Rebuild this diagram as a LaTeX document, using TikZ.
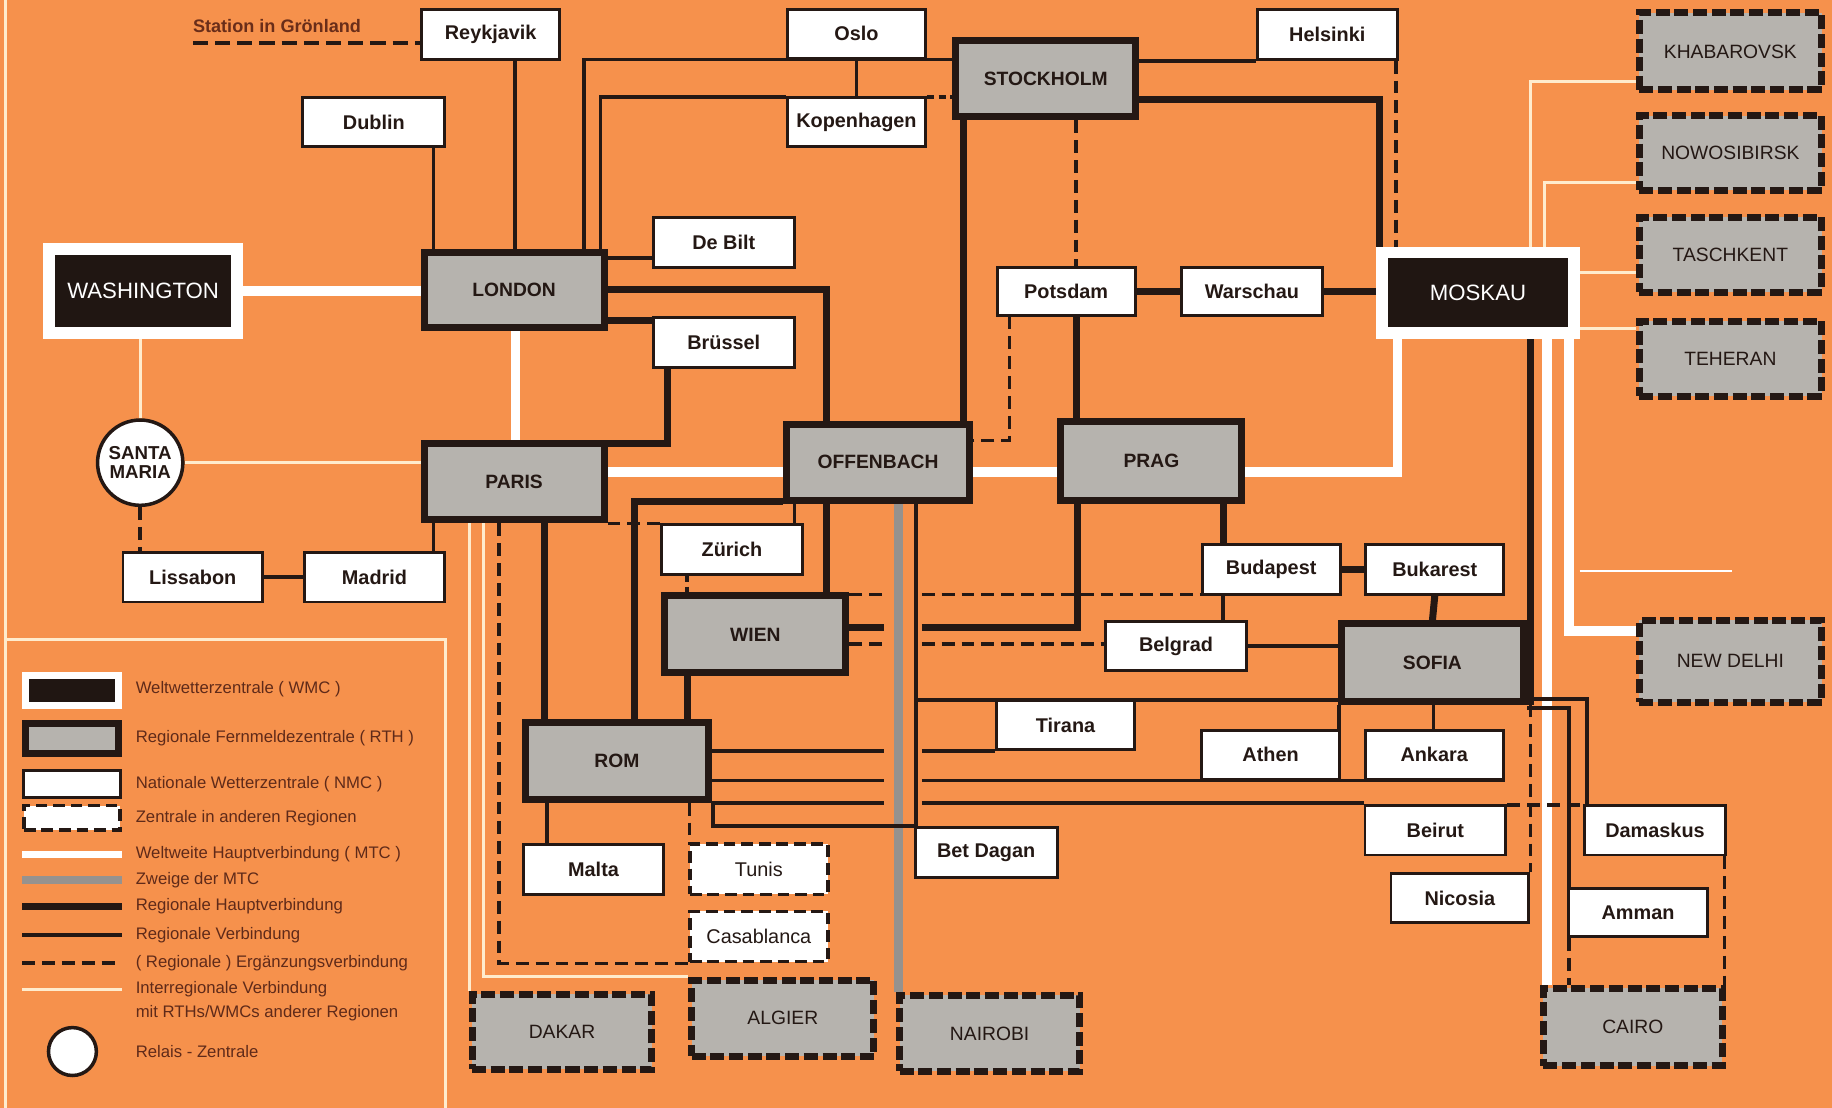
\documentclass[tikz,border=0pt]{standalone}
\usepackage{fontspec}
\setmainfont{Liberation Sans}
\definecolor{bgor}{RGB}{246,145,76}
\definecolor{ink}{RGB}{36,24,20}
\definecolor{cream}{RGB}{255,236,205}
\definecolor{stip}{RGB}{182,179,174}
\definecolor{stipd}{RGB}{150,146,142}
\definecolor{legtxt}{RGB}{95,42,25}
\definecolor{grn}{RGB}{105,45,25}
\pgfdeclarelayer{back}
\pgfdeclarelayer{lines}
\pgfsetlayers{back,lines,main}
\tikzset{
  nmc/.style={draw=ink, line width=2.5pt, fill=white, minimum width=118pt, minimum height=42.5pt, inner sep=0pt, font=\bfseries\fontsize{17}{18}\selectfont, text=ink},
  rth/.style={draw=ink, line width=6pt, fill=stip, minimum width=154pt, minimum height=65pt, inner sep=0pt, font=\bfseries\fontsize{16.5}{18}\selectfont, text=ink},
  ext/.style={draw=ink, line width=6pt, dash pattern=on 12pt off 4pt, fill=stip, minimum width=156pt, minimum height=65pt, inner sep=0pt, font=\fontsize{16.5}{18}\selectfont, text=ink},
  extw/.style={draw=ink, line width=3pt, dash pattern=on 10pt off 5pt, fill=white, minimum width=118pt, minimum height=43pt, inner sep=0pt, font=\fontsize{17}{18}\selectfont, text=ink},
  wmc/.style={draw=white, line width=10pt, fill=ink!90!black, inner sep=0pt, font=\fontsize{19}{20}\selectfont, text=white},
  relais/.style={circle, draw=ink, line width=3pt, fill=white, minimum size=73pt, inner sep=0pt, align=center, font=\bfseries\fontsize{16}{16}\selectfont, text=ink},
  mainln/.style={draw=ink, line width=6pt},
  regln/.style={draw=ink, line width=3.2pt},
  dashln/.style={draw=ink, line width=3pt, dash pattern=on 11pt off 6pt},
  mtc/.style={draw=white, line width=8pt},
  interln/.style={draw=cream, line width=2.5pt},
  branch/.style={draw=stipd, line width=8pt},
  legtext/.style={anchor=west, inner sep=0pt, text=legtxt, font=\fontsize{14.3}{16}\selectfont},
}
\begin{document}
\begin{tikzpicture}[x=1pt,y=-1pt]
\useasboundingbox (0,0) rectangle (1568,948);
\begin{pgfonlayer}{back}
\fill[bgor] (0,0) rectangle (1568,948);
\draw[interln] (5,0) -- (5,948);
\draw[interln] (5,547) -- (381,547) -- (381,948);
\end{pgfonlayer}

% ---------- NMC nodes
\node[nmc] (rey) at (420,29.5) {Reykjavik};
\node[nmc] (oslo) at (733,29) {Oslo};
\node[nmc, minimum width=119.5pt] (hel) at (1136,29.5) {Helsinki};
\node[nmc] (kop) at (733,104.5) {Kopenhagen};
\node[nmc, minimum width=121.5pt] (dub) at (320,104.5) {Dublin};
\node[nmc, minimum width=120.5pt] (dbi) at (619.5,207.5) {De Bilt};
\node[nmc, minimum width=120.5pt] (bru) at (619.5,293) {Brüssel};
\node[nmc, minimum height=40.5pt] (pot) at (912.5,249.5) {Potsdam};
\node[nmc, minimum width=120.5pt, minimum height=40.5pt] (war) at (1071.5,249.5) {Warschau};
\node[nmc, minimum width=119.5pt] (lis) at (165,494) {Lissabon};
\node[nmc, minimum width=120.5pt] (mad) at (320.5,494) {Madrid};
\node[nmc, minimum width=120.5pt] (zur) at (626.5,470.5) {Zürich};
\node[nmc] (bud) at (1088,487.5) {Budapest};
\node[nmc] (buk) at (1228,487.5) {Bukarest};
\node[nmc, minimum width=120.5pt] (bel) at (1006.5,553) {Belgrad};
\node[nmc] (tir) at (912,620.5) {Tirana};
\node[nmc, minimum height=41.5pt] (ath) at (1087.5,646) {Athen};
\node[nmc, minimum height=41.5pt] (ank) at (1227.5,646) {Ankara};
\node[nmc, minimum width=119.5pt] (mal) at (508,744) {Malta};
\node[nmc, minimum width=121.5pt] (bet) at (844,729.5) {Bet Dagan};
\node[nmc, minimum width=120.5pt] (bei) at (1228.5,710.5) {Beirut};
\node[nmc, minimum width=120.5pt] (dam) at (1416.5,710.5) {Damaskus};
\node[nmc] (nic) at (1249.5,768.5) {Nicosia};
\node[nmc, minimum width=119.5pt, minimum height=41.5pt] (amm) at (1402,781) {Amman};
\node[extw] (tun) at (649.5,744) {Tunis};
\node[extw] (cas) at (649.5,801.5) {Casablanca};

% ---------- RTH nodes
\node[rth] (sto) at (895,67.5) {STOCKHOLM};
\node[rth, minimum height=64pt] (lon) at (440,248) {LONDON};
\node[rth] (par) at (440,412.5) {PARIS};
\node[rth, minimum width=157pt] (off) at (751.5,395.5) {OFFENBACH};
\node[rth, minimum width=155pt, minimum height=67pt] (pra) at (985.5,394.5) {PRAG};
\node[rth, minimum width=155pt, minimum height=66pt] (wie) at (646.5,543) {WIEN};
\node[rth, minimum width=156pt, minimum height=66pt] (sof) at (1226,567) {SOFIA};
\node[rth, minimum width=156pt, minimum height=66pt] (rom) at (528,651) {ROM};

% ---------- other regions
\node[ext, minimum height=66pt] (kha) at (1481,44) {KHABAROVSK};
\node[ext, minimum height=64pt] (now) at (1481,131) {NOWOSIBIRSK};
\node[ext, minimum height=64pt] (tas) at (1481,218) {TASCHKENT};
\node[ext, minimum height=64pt] (teh) at (1481,307) {TEHERAN};
\node[ext, minimum height=70pt] (ndl) at (1481,566) {NEW DELHI};
\node[ext, minimum width=154pt, minimum height=64pt] (dak) at (481,883) {DAKAR};
\node[ext, minimum height=65pt] (alg) at (670,871.5) {ALGIER};
\node[ext, minimum width=154pt, minimum height=65pt] (nai) at (847,884.5) {NAIROBI};
\node[ext, minimum width=153pt, minimum height=66pt] (cai) at (1397.5,879) {CAIRO};

% ---------- WMC and relay
\node[wmc, minimum width=161pt, minimum height=72pt] (was) at (122.5,249) {WASHINGTON};
\node[wmc, minimum width=164pt, minimum height=69pt] (mos) at (1265,250.5) {MOSKAU};
\node[relais] (sm) at (120,396) {SANTA\\MARIA};

\node[font=\bfseries\fontsize{15.5}{16}\selectfont, text=grn, anchor=west, inner sep=0pt] (grtxt) at (165,22) {Station in Grönland};
\coordinate (grend) at (165,37);

% ---------- legend
\node[wmc, line width=6pt, minimum width=79pt, minimum height=26pt] (lg1) at (61.5,591) {};
\node[rth, minimum width=79pt, minimum height=26pt] (lg2) at (61.5,632) {};
\node[nmc, minimum width=82.5pt, minimum height=23.5pt] (lg3) at (61.5,671) {};
\node[extw, minimum width=82pt, minimum height=21pt] (lg4) at (61.5,700) {};
\coordinate (la5) at (19,731); \coordinate (lb5) at (104,731);
\coordinate (la6) at (19,753); \coordinate (lb6) at (104,753);
\coordinate (la7) at (19,776); \coordinate (lb7) at (104,776);
\coordinate (la8) at (19,800); \coordinate (lb8) at (104,800);
\coordinate (la9) at (19,824); \coordinate (lb9) at (104,824);
\coordinate (la10) at (19,847); \coordinate (lb10) at (104,847);
\draw[mtc, line width=6pt] (la5) -- (lb5);
\draw[branch, line width=7pt] (la6) -- (lb6);
\draw[mainln] (la7) -- (lb7);
\draw[regln] (la8) -- (lb8);
\draw[dashln] (la9) -- (lb9);
\draw[interln] (la10) -- (lb10);
\node[circle, draw=ink, line width=3pt, fill=white, minimum size=41pt] (lg12) at (62,900) {};
\node[legtext] (t1) at (116,590) {Weltwetterzentrale ( WMC )};
\node[legtext] (t2) at (116,632) {Regionale Fernmeldezentrale ( RTH )};
\node[legtext] (t3) at (116,671) {Nationale Wetterzentrale ( NMC )};
\node[legtext] (t4) at (116,700) {Zentrale in anderen Regionen};
\node[legtext] (t5) at (116,731) {Weltweite Hauptverbindung ( MTC )};
\node[legtext] (t6) at (116,753) {Zweige der MTC};
\node[legtext] (t7) at (116,776) {Regionale Hauptverbindung};
\node[legtext] (t8) at (116,800) {Regionale Verbindung};
\node[legtext] (t9) at (116,824) {( Regionale ) Ergänzungsverbindung};
\node[legtext] (t10) at (116,847) {Interregionale Verbindung};
\node[legtext] (t11) at (116,867) {mit RTHs/WMCs anderer Regionen};
\node[legtext] (t12) at (116,900) {Relais - Zentrale};

% ---------- connectors
\begin{pgfonlayer}{lines}
% interregional
\draw[interln] (was.south -| 120,0) -- (sm.north);
\draw[interln] (sm.east) -- (par.west |- sm.east);
\draw[interln] (mos.north -| 1310,0) |- (kha.west |- 0,70);
\draw[interln] (mos.north -| 1322,0) |- (now.west |- 0,156);
\draw[interln] (mos.east |- 0,233) -- (tas.west |- 0,233);
\draw[interln] (mos.east |- 0,281) -- (teh.west |- 0,281);
\draw[interln] (par.south -| 402,0) -- (dak.north -| 402,0);
\draw[interln] (par.south -| 414,0) |- (alg.north west);
\draw[white, line width=1.5pt] (1352,489) -- (1482,489);
% MTC
\draw[mtc] (was.east) -- (lon.west |- was.east);
\draw[mtc] (lon.south -| 441,0) -- (par.north -| 441,0);
\draw[mtc] (par.east |- 0,404) -- (off.west |- 0,404);
\draw[mtc] (off.east |- 0,404) -- (pra.west |- 0,404);
\draw[mtc] (pra.east |- 0,404) -| (mos.south -| 1196,0);
\draw[mtc] (mos.south -| 1343,0) |- (ndl.west |- 0,540);
\draw[mtc] (mos.south -| 1324,0) -- (cai.north -| 1324,0);
% branch of MTC
\draw[branch] (off.south -| 769,0) -- (nai.north -| 769,0);
% north
\draw[dashln, dash pattern=on 13pt off 6pt] (grend) -- (rey.west |- grend);
\draw[regln] (rey.south -| 441,0) -- (lon.north -| 441,0);
\draw[regln] (dub.south -| 371,0) -- (lon.north -| 371,0);
\draw[regln] (lon.north -| 500,0) |- (sto.west |- 0,51);
\draw[regln] (lon.north -| 514,0) |- (kop.west |- 0,83);
\draw[dashln, dash pattern=on 6pt off 4pt] (kop.east |- 0,83) -- (sto.west |- 0,83);
\draw[regln] (oslo.south) -- (kop.north);
\draw[regln] (sto.east |- 0,52) -- (hel.west |- 0,52);
\draw[mainln] (sto.east |- 0,85) -| (mos.north -| 1181,0);
\draw[dashln] (hel.south -| 1195,0) -- (mos.north -| 1195,0);
\draw[regln] (lon.east |- 0,221) -- (dbi.west |- 0,221);
\draw[mainln] (lon.east |- 0,248) -| (off.north -| 707,0);
\draw[mainln] (lon.east |- 0,274) -- (bru.west |- 0,274);
\draw[mainln] (bru.south -| 571,0) |- (par.east |- 0,380);
\draw[mainln] (sto.south -| 825,0) -- (off.north -| 825,0);
\draw[dashln] (sto.south -| 921,0) -- (pot.north -| 921,0);
\draw[mainln] (pot.east) -- (war.west);
\draw[mainln] (war.east) -- (mos.west |- war.east);
\draw[mainln] (pot.south -| 921,0) -- (pra.north -| 921,0);
\draw[dashln] (pot.south -| 864,0) |- (off.east |- 0,377);
% west
\draw[regln] (par.south -| 371,0) -- (mad.north -| 371,0);
\draw[regln] (lis.east) -- (mad.west);
\draw[dashln] (sm.south) -- (lis.north -| sm.south);
\draw[mainln] (par.south -| 466,0) -- (rom.north -| 466,0);
\draw[dashln] (par.south -| 427,0) |- (cas.south west);
\draw[dashln] (par.east |- 0,448) -- (zur.west |- 0,448);
% centre
\draw[mainln] (off.west |- 0,429) -| (rom.north -| 543,0);
\draw[regln] (off.south -| 680,0) -- (zur.north -| 680,0);
\draw[mainln] (off.south -| 707,0) -- (wie.north -| 707,0);
\draw[dashln, dash pattern=on 5pt off 4pt] (zur.south -| 588,0) -- (wie.north -| 588,0);
\draw[mainln] (wie.south -| 588,0) -- (rom.north -| 588,0);
\draw[dashln] (wie.east |- 0,509) -- (757,509) (789,509) -- (bud.west |- 0,509);
\draw[mainln] (wie.east |- 0,537) -- (757,537) (789,537) -| (pra.south -| 922,0);
\draw[dashln] (wie.east |- 0,551) -- (757,551) (789,551) -- (bel.west |- 0,551);
\draw[mainln] (pra.south -| 1047,0) -- (bud.north -| 1047,0);
\draw[mainln] (bud.east) -- (buk.west);
\draw[regln] (bud.south -| 1047,0) -- (bel.north -| 1047,0);
\draw[mainln] (buk.south) -- (sof.north);
\draw[regln] (bel.east) -- (sof.west |- bel.east);
\draw[regln] (off.south -| 784,0) -- (bet.north -| 784,0);
\draw[regln] (off.south -| 784,0) |- (sof.west |- 0,599);
% south-east
\draw[mainln] (mos.south -| 1310,0) -- (sof.south -| 1310,0);
\draw[regln] (sof.south east |- 0,598) -| (dam.north -| 1358,0);
\draw[regln] (sof.south east |- 0,606) -| (amm.north -| 1343,0);
\draw[dashln] (amm.south -| 1343,0) -- (cai.north -| 1343,0);
\draw[dashln] (dam.south -| 1476,0) -- (cai.north -| 1476,0);
\draw[dashln] (sof.south -| 1310,0) -- (nic.north -| 1310,0);
\draw[dashln] (bei.east |- 0,689) -- (dam.west |- 0,689);
\draw[regln] (sof.south -| 1146,0) -- (ath.north -| 1146,0);
\draw[regln] (sof.south -| 1227,0) -- (ank.north -| 1227,0);
% Rom
\draw[regln] (rom.east |- 0,642.5) -- (757,642.5) (789,642.5) -- (tir.west |- 0,642.5);
\draw[regln] (rom.east |- 0,668) -- (757,668) (789,668) -- (ank.east |- 0,668);
\draw[regln] (rom.east |- 0,687.5) -- (757,687.5) (789,687.5) -- (bei.west |- 0,687.5);
\draw[regln] (rom.south -| 610,0) |- (bet.north -| 784,0);
\draw[regln] (rom.south -| 468,0) -- (mal.north -| 468,0);
\draw[dashln] (rom.south -| 590,0) -- (tun.north -| 590,0);
\end{pgfonlayer}
\end{tikzpicture}
\end{document}
